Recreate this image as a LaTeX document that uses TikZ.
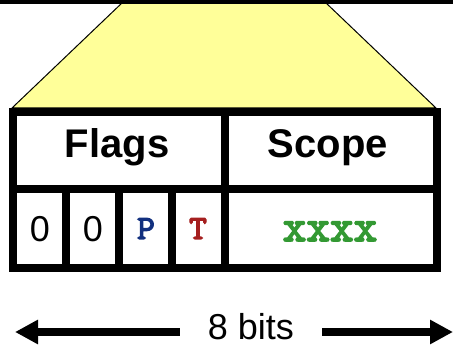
\documentclass[tikz,border=0pt]{standalone}
\usepackage{fontspec}
\setmainfont{Liberation Sans}
\newfontfamily\slabfam[FakeBold=3.5]{lmmono10-regular.otf}
\usetikzlibrary{arrows.meta, positioning}
\definecolor{trapyellow}{HTML}{FFFF99}
\definecolor{pblue}{HTML}{12307F}
\definecolor{tred}{HTML}{A51F1F}
\definecolor{scopegreen}{HTML}{339933}

\begin{document}
\begin{tikzpicture}[x=1pt, y=1pt,
  grid/.style={line width=8pt},
  head/.style={font=\fontsize{40}{40}\selectfont\bfseries, anchor=base},
  bitval/.style={font=\fontsize{36}{36}\selectfont, anchor=base},
  flagbit/.style={font=\fontsize{34}{34}\selectfont\slabfam, anchor=base},
  bitarrow/.style={line width=8pt, -{Triangle[length=23pt, width=23pt]}}]
\def\bw{53}
\def\xl{13}
\def\xr{437}
\def\xm{225}
\def\yt{234}
\def\ym{157}
\def\yb{78.5}
\useasboundingbox (0,0) rectangle (453,346);

\filldraw[fill=trapyellow, draw=black, line width=1pt]
  (12,238) -- (123,344) -- (325,344) -- (436,238) -- cycle;
\fill (0,342) rectangle (453,346);

\draw[grid] (\xl,\yb) rectangle (\xr,\yt);
\draw[grid] (\xl,\ym) -- (\xr,\ym);
\draw[grid] (\xm,\yb) -- (\xm,\yt);
\foreach \i in {1,2,3}
  \draw[grid] ({\xl+\i*\bw},\yb) -- ({\xl+\i*\bw},\ym);

\node[head] (flags) at (117,188) {Flags};
\node[head] (scope) at (328,188) {Scope};

\node[bitval] (b0) at (40,105) {0};
\node[bitval] (b1) at (93,105) {0};
\node[flagbit, text=pblue] (bp) at (146,107) {P};
\node[flagbit, text=tred] (bt) at (198,107) {T};
\node[font=\fontsize{45}{45}\selectfont\slabfam, text=scopegreen, anchor=base] (sx) at (330,105) {xxxx};

\node[font=\fontsize{36}{36}\selectfont, minimum width=142pt, inner sep=0pt] (bits) at (251,19) {8 bits};
\coordinate (lend) at (15,14);
\coordinate (rend) at (453,14);
\draw[bitarrow] (bits.west |- lend) -- (lend);
\draw[bitarrow] (bits.east |- rend) -- (rend);
\end{tikzpicture}
\end{document}
